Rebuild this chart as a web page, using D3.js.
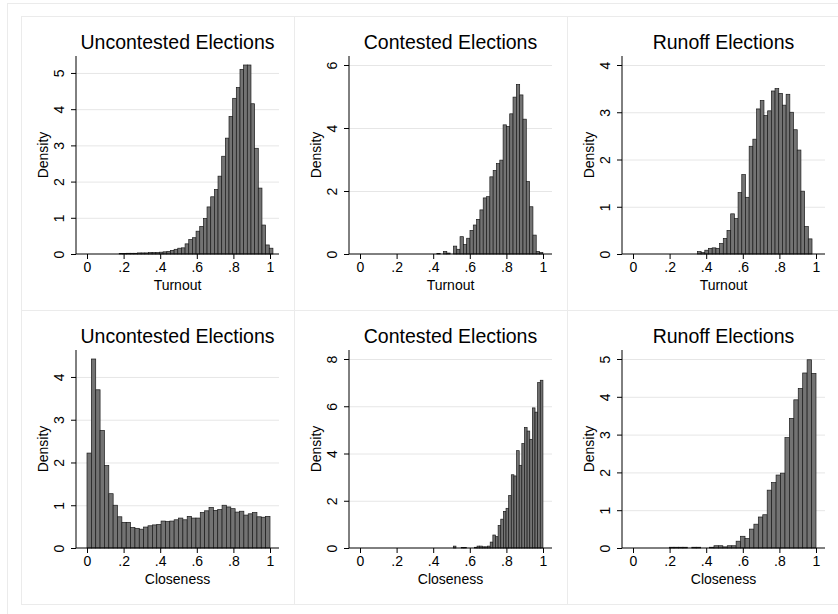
<!DOCTYPE html>
<html>
<head>
<meta charset="utf-8">
<script src="https://d3js.org/d3.v7.min.js"></script>
<style>
    body { margin: 0; background: #fff; }
    text { font-family: "Liberation Sans", Arial, sans-serif; fill: #000; }
</style>
</head>
<body>
<div id="my_dataviz"></div>
<script>
// densities, plus [first bin start, bin width]
var turnoutUncontested = [0.01, 0.01, 0.02, 0.02, 0.02, 0.03, 0.03, 0.03, 0.04, 0.04, 0.04, 0.05, 0.06, 0.07,
    0.1, 0.13, 0.16, 0.17, 0.28, 0.4, 0.45, 0.63, 0.76, 0.98, 1.3, 1.58, 1.78, 2.15, 2.7, 3.2, 3.8, 4.3, 4.6,
    5.1, 5.22, 5.22, 4.15, 2.92, 1.82, 0.8, 0.25, 0.16];
var turnoutUncontestedBins = [0.176, 0.02];

var turnoutContested = [0.02, 0, 0.08, 0.03, 0, 0.25, 0.15, 0.55, 0.3, 0.5, 0.75, 0.92, 1.1, 1.4, 1.78,
    1.82, 2.45, 2.65, 2.87, 2.98, 4.1, 4.05, 4.45, 4.98, 5.38, 5.05, 4.28, 2.3, 1.5, 0.6, 0.08, 0.05];
var turnoutContestedBins = [0.42, 0.0181];

var turnoutRunoff = [0.05, 0.03, 0.08, 0.12, 0.13, 0.12, 0.22, 0.33, 0.5, 0.85, 0.75, 1.3, 1.68, 1.2, 2.28,
    2.43, 3.07, 3.25, 2.93, 3.03, 3.45, 3.5, 3.4, 3.15, 3.38, 3.0, 2.63, 2.2, 1.33, 0.58, 0.32];
var turnoutRunoffBins = [0.352, 0.0202];

var closenessUncontested = [2.22, 4.42, 3.7, 2.75, 1.93, 1.27, 1.0, 0.73, 0.6, 0.6, 0.48, 0.46, 0.44, 0.49,
    0.52, 0.54, 0.55, 0.63, 0.62, 0.63, 0.66, 0.7, 0.66, 0.74, 0.7, 0.7, 0.83, 0.87, 0.95, 0.88, 0.9, 1.0,
    0.96, 0.92, 0.84, 0.86, 0.77, 0.8, 0.83, 0.73, 0.72, 0.74];
var closenessUncontestedBins = [0, 1 / 42];

var closenessContested = [0.08, 0, 0, 0.02, 0.02, 0, 0, 0, 0.03, 0.08, 0.08, 0.05, 0.05, 0.08, 0.25, 0.55,
    0.48, 0.95, 1.22, 1.55, 1.68, 2.22, 3.1, 3.05, 4.12, 3.5, 4.42, 5.1, 4.95, 4.6, 5.93, 5.75, 7.0, 7.1];
var closenessContestedBins = [0.51, 0.0144];

var closenessRunoff = [0.02, 0.02, 0.02, 0.02, 0, 0.02, 0.02, 0, 0, 0.02, 0.06, 0.06, 0.03, 0.06, 0.06,
    0.18, 0.31, 0.25, 0.5, 0.63, 0.82, 0.88, 1.53, 1.73, 1.93, 1.98, 2.92, 3.43, 3.92, 4.22, 4.63, 4.98, 4.62];
var closenessRunoffBins = [0.2, 0.8 / 33];

var titles = ["Uncontested Elections", "Contested Elections", "Runoff Elections"];
var xTitles = ["Turnout", "Closeness"];
var xTicks = [0, 0.2, 0.4, 0.6, 0.8, 1];
var xTickLabels = ["0", ".2", ".4", ".6", ".8", "1"];
var yTicksTurnout = [[0, 1, 2, 3, 4, 5], [0, 2, 4, 6], [0, 1, 2, 3, 4]];
var yTicksCloseness = [[0, 1, 2, 3, 4], [0, 2, 4, 6, 8], [0, 1, 2, 3, 4, 5]];

var rows = [
    [[turnoutUncontested, turnoutUncontestedBins], [turnoutContested, turnoutContestedBins], [turnoutRunoff, turnoutRunoffBins]],
    [[closenessUncontested, closenessUncontestedBins], [closenessContested, closenessContestedBins], [closenessRunoff, closenessRunoffBins]]
];
var rowTicks = [yTicksTurnout, yTicksCloseness];

var width = 838,
    height = 614;
var panelW = 273,
    panelH = 294;

var svg = d3
    .select("#my_dataviz")
    .append("svg")
    .attr("id", "svg")
    .attr("width", width)
    .attr("height", height);

// outer frame of the combined graph
svg.append("rect")
    .attr("x", 7.5)
    .attr("y", 3.5)
    .attr("width", 860)
    .attr("height", 640)
    .attr("fill", "none")
    .attr("stroke", "#ebebeb");

rows.forEach(function (row, r) {
    row.forEach(function (series, c) {
        buildPanel(21 + c * panelW, 16 + r * panelH, series[0], series[1], rowTicks[r][c], titles[c], xTitles[r]);
    });
});

function buildPanel(left, top, values, bins, yTicks, title, xTitle) {
    var g = svg.append("g").attr("transform", "translate(" + left + "," + top + ")");

    g.append("rect")
        .attr("x", 0.5)
        .attr("y", 0.5)
        .attr("width", panelW)
        .attr("height", panelH)
        .attr("fill", "none")
        .attr("stroke", "#ebebeb");

    var axisX = 55,
        plotRight = 258,
        baseY = 238,
        axisTop = 40;

    var x = d3.scaleLinear().domain([0, 1]).range([66, 249]);
    var yMax = Math.max(yTicks[yTicks.length - 1], d3.max(values));
    var y = d3.scaleLinear().domain([0, yMax]).range([baseY, 49]);

    // grid lines
    g.selectAll("grid")
        .data(yTicks.filter(function (d) { return d > 0; }))
        .enter()
        .append("line")
        .attr("x1", axisX)
        .attr("x2", plotRight)
        .attr("y1", function (d) { return y(d) + 0.5; })
        .attr("y2", function (d) { return y(d) + 0.5; })
        .attr("stroke", "#e6e6e6")
        .attr("stroke-width", 1);

    // histogram bars
    var binW = bins[1];
    var bars = values.map(function (v, i) {
        return { x0: bins[0] + i * binW, x1: bins[0] + (i + 1) * binW, v: v };
    }).filter(function (d) { return d.v > 0; });

    g.selectAll("bars")
        .data(bars)
        .enter()
        .append("rect")
        .attr("x", function (d) { return x(d.x0); })
        .attr("width", function (d) { return x(d.x1) - x(d.x0); })
        .attr("y", function (d) { return y(d.v); })
        .attr("height", function (d) { return baseY - y(d.v); })
        .attr("fill", "#737373")
        .attr("stroke", "#1a1a1a")
        .attr("stroke-width", 0.7);

    // x axis
    var xAxis = g.append("g")
        .attr("transform", "translate(0," + baseY + ")")
        .call(d3.axisBottom(x).tickValues(xTicks).tickSize(5).tickFormat(function (d, i) { return xTickLabels[i]; }));
    xAxis.select(".domain").remove();
    xAxis.selectAll("text").style("font-size", "14px");
    xAxis.append("line")
        .attr("x1", axisX)
        .attr("x2", plotRight)
        .attr("stroke", "#000");

    // y axis with vertical labels
    var yAxis = g.append("g")
        .attr("transform", "translate(" + axisX + ",0)")
        .call(d3.axisLeft(y).tickValues(yTicks).tickSize(5).tickFormat(function (d) { return String(d); }));
    yAxis.select(".domain").remove();
    yAxis.selectAll("text")
        .attr("x", 0)
        .attr("dy", 0)
        .attr("text-anchor", "middle")
        .attr("transform", "translate(-12,0) rotate(-90)")
        .style("font-size", "14px");
    yAxis.append("line")
        .attr("y1", baseY)
        .attr("y2", axisTop)
        .attr("stroke", "#000");

    g.append("text")
        .attr("x", (axisX + plotRight) / 2)
        .attr("y", 33)
        .attr("text-anchor", "middle")
        .style("font-size", "19.5px")
        .text(title);

    g.append("text")
        .attr("x", (axisX + plotRight) / 2)
        .attr("y", 274)
        .attr("text-anchor", "middle")
        .style("font-size", "14px")
        .text(xTitle);

    g.append("text")
        .attr("transform", "translate(27," + (baseY + axisTop) / 2 + ") rotate(-90)")
        .attr("text-anchor", "middle")
        .style("font-size", "14px")
        .text("Density");
}
</script>
</body>
</html>
